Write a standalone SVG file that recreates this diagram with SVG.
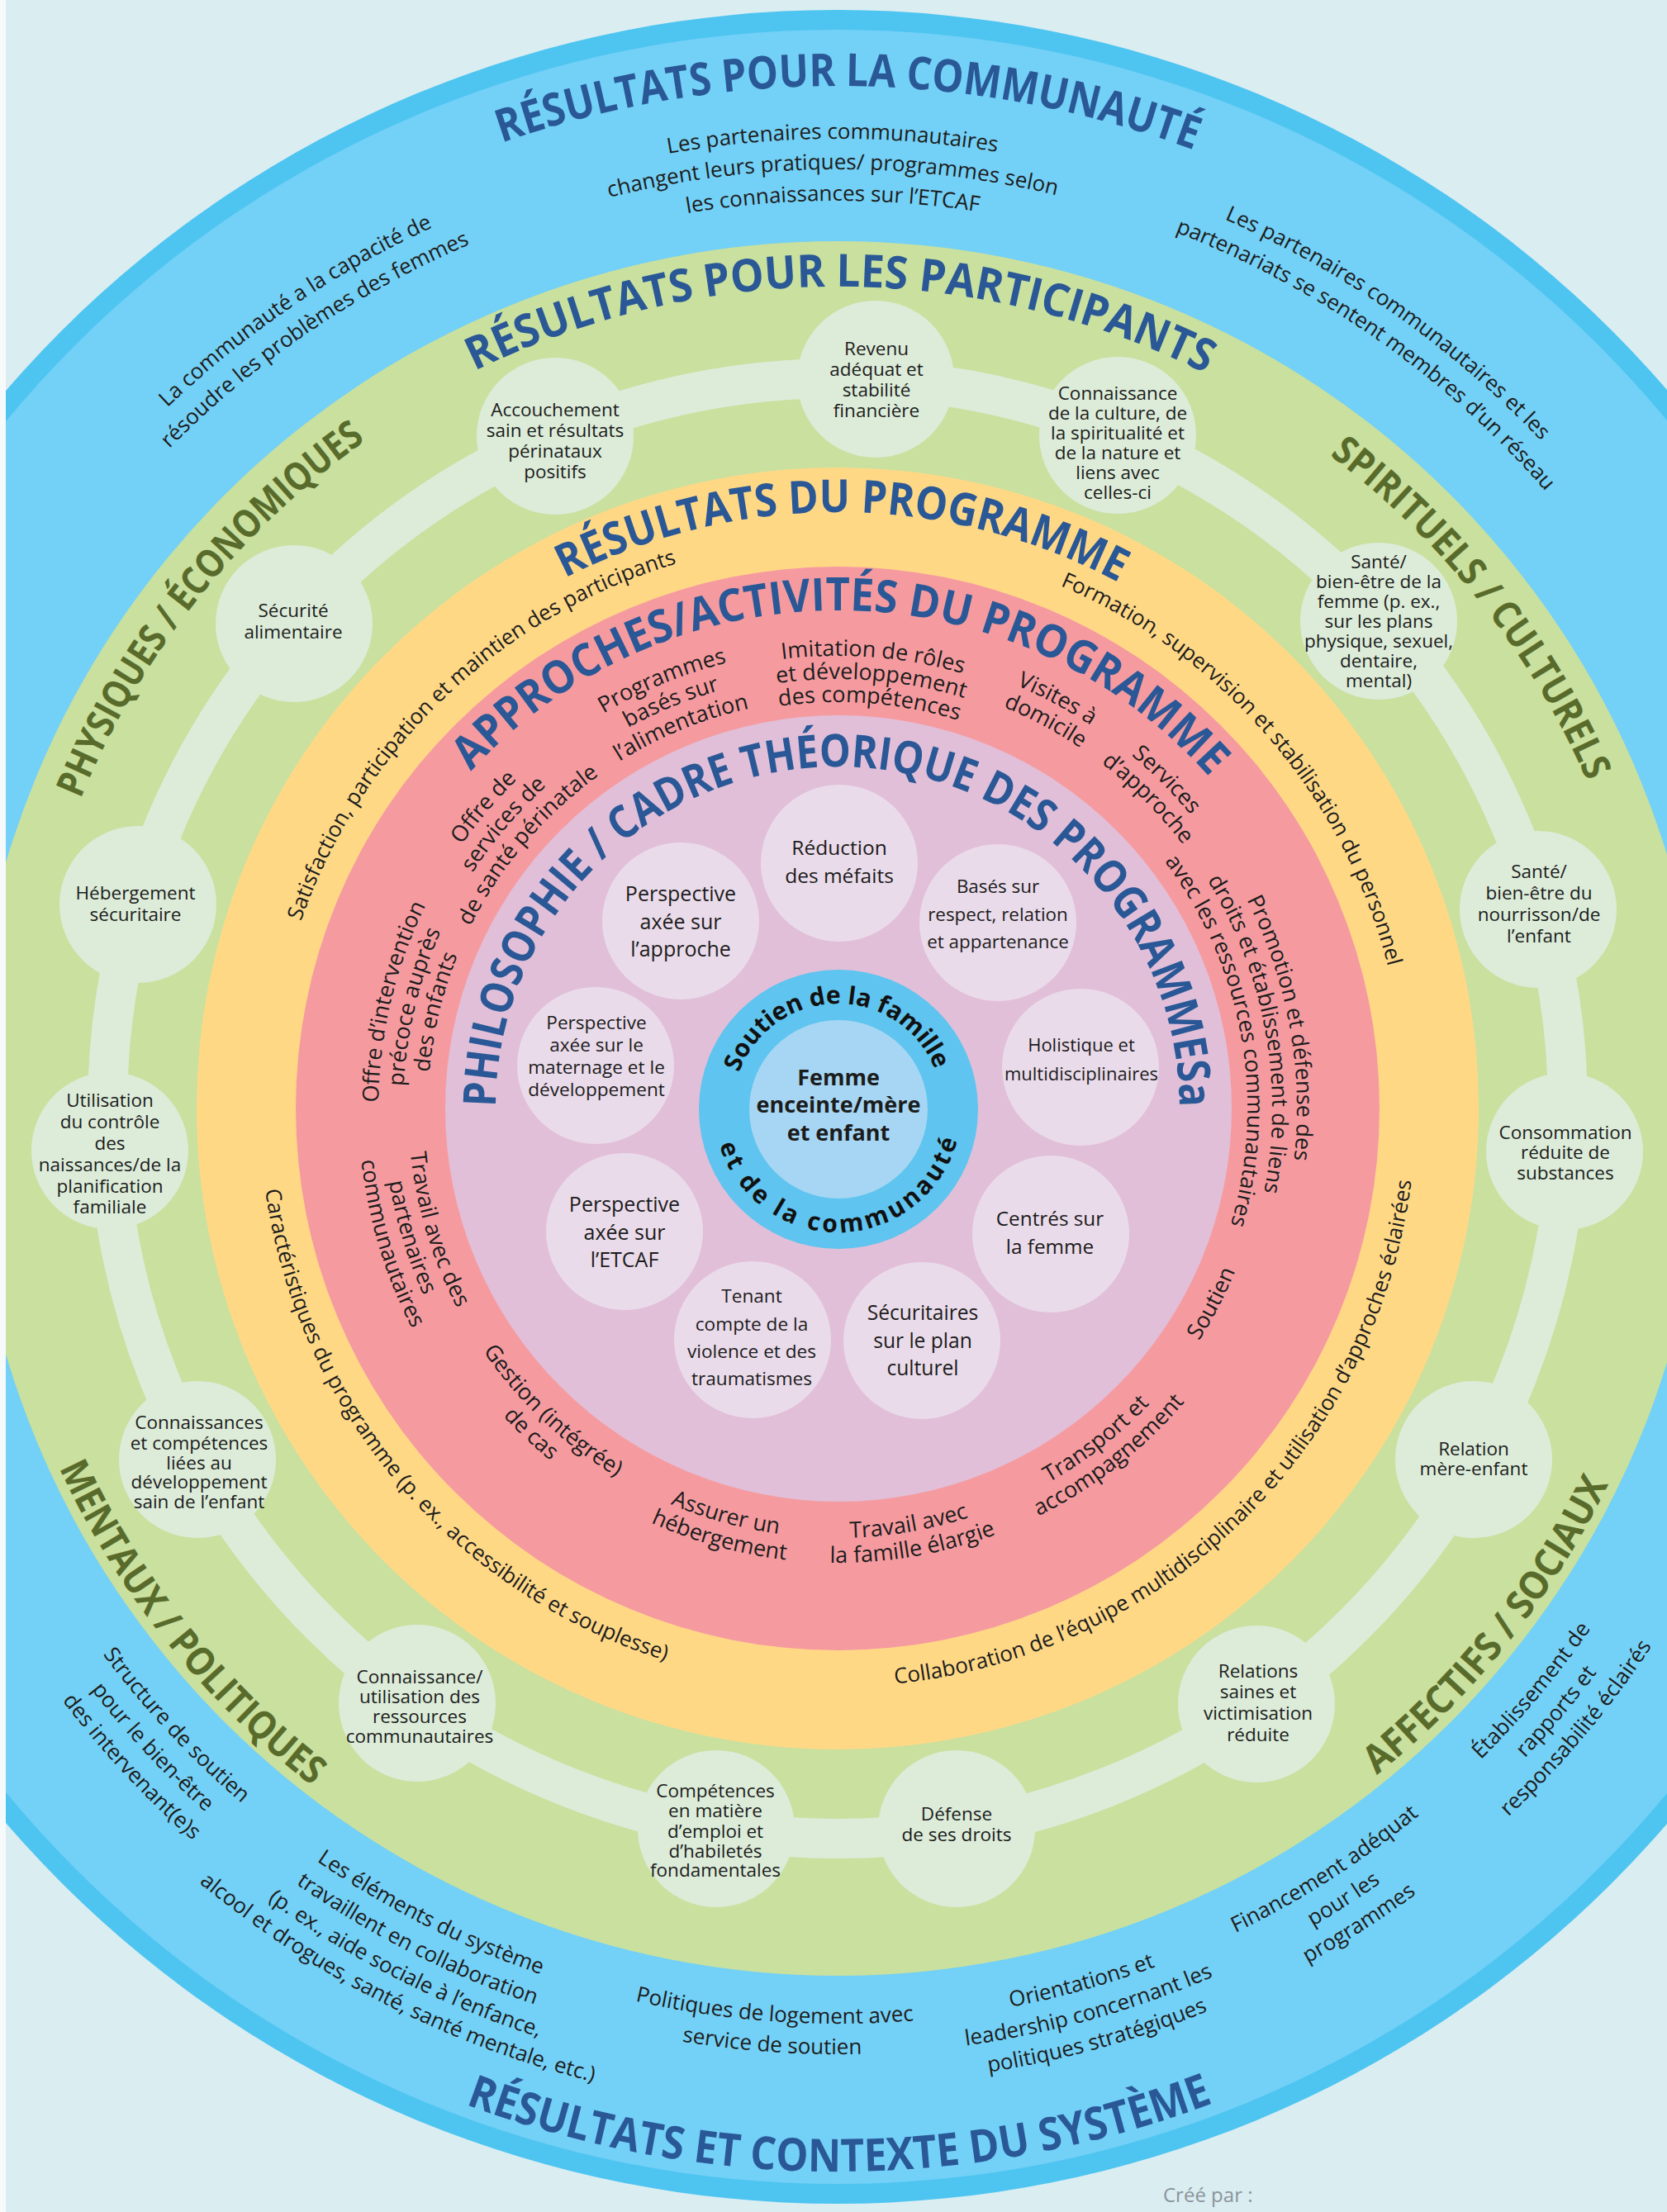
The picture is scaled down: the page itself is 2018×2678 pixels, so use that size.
<svg xmlns="http://www.w3.org/2000/svg" width="2018" height="2678" viewBox="0 0 2018 2678">
<defs>
<style>
text{font-family:"Open Sans","Noto Sans","DejaVu Sans",sans-serif;}
.t{font-size:26px;fill:#1c1c1c;text-anchor:middle;}
.pl{font-size:27px;fill:#1c1c1c;text-anchor:middle;}
.ti{font-size:55px;font-weight:700;fill:#2a5896;text-anchor:middle;}
.ol{font-size:47px;font-weight:700;fill:#596b2b;text-anchor:middle;}
.gn{font-size:22.5px;fill:#1c1c1c;text-anchor:middle;}
.ln{fill:#1c1c1c;text-anchor:middle;}
.cb{font-size:30px;font-weight:700;fill:#111;text-anchor:middle;}
.gnode{fill:#dcecd9;}
.lnode{fill:#eadbea;}
</style>
<path id="cw1238" d="M -205.19 1127.02 A 1238 1238 0 0 1 2233.19 1127.02"/>
<path id="cw1174" d="M -142.17 1138.13 A 1174 1174 0 0 1 2170.17 1138.13"/>
<path id="cw1137" d="M -105.73 1144.56 A 1137 1137 0 0 1 2133.73 1144.56"/>
<path id="cw1099" d="M -68.31 1151.16 A 1099 1099 0 0 1 2096.31 1151.16"/>
<path id="cw995" d="M 34.11 1169.22 A 995 995 0 0 1 1993.89 1169.22"/>
<path id="cw990" d="M 39.04 1170.09 A 990 990 0 0 1 1988.96 1170.09"/>
<path id="cw722" d="M 302.97 1216.62 A 722 722 0 0 1 1725.03 1216.62"/>
<path id="cw688" d="M 336.45 1222.53 A 688 688 0 0 1 1691.55 1222.53"/>
<path id="cw603" d="M 420.16 1237.29 A 603 603 0 0 1 1607.84 1237.29"/>
<path id="cw556" d="M 466.45 1245.45 A 556 556 0 0 1 1561.55 1245.45"/>
<path id="cw526" d="M 495.99 1250.66 A 526 526 0 0 1 1532.01 1250.66"/>
<path id="cw496" d="M 525.53 1255.87 A 496 496 0 0 1 1502.47 1255.87"/>
<path id="cw548" d="M 474.32 1246.84 A 548 548 0 0 1 1553.68 1246.84"/>
<path id="cw520" d="M 501.90 1251.70 A 520 520 0 0 1 1526.10 1251.70"/>
<path id="cw492" d="M 529.47 1256.56 A 492 492 0 0 1 1498.53 1256.56"/>
<path id="cw127" d="M 888.93 1319.95 A 127 127 0 0 1 1139.07 1319.95"/>
<path id="ccw1287" d="M -253.45 1565.49 A 1287 1287 0 0 0 2281.45 1565.49"/>
<path id="ccw1108" d="M -77.17 1534.40 A 1108 1108 0 0 0 2105.17 1534.40"/>
<path id="ccw1145" d="M -113.61 1540.83 A 1145 1145 0 0 0 2141.61 1540.83"/>
<path id="ccw1181" d="M -149.06 1547.08 A 1181 1181 0 0 0 2177.06 1547.08"/>
<path id="ccw1215" d="M -182.54 1552.98 A 1215 1215 0 0 0 2210.54 1552.98"/>
<path id="ccw1038" d="M -8.23 1522.25 A 1038 1038 0 0 0 2036.23 1522.25"/>
<path id="ccw700" d="M 324.63 1463.56 A 700 700 0 0 0 1703.37 1463.56"/>
<path id="ccw520" d="M 501.90 1432.30 A 520 520 0 0 0 1526.10 1432.30"/>
<path id="ccw550" d="M 472.35 1437.51 A 550 550 0 0 0 1555.65 1437.51"/>
<path id="ccw580" d="M 442.81 1442.72 A 580 580 0 0 0 1585.19 1442.72"/>
<path id="ccw150" d="M 866.28 1368.05 A 150 150 0 0 0 1161.72 1368.05"/>
<path id="lav414" d="M 600 1342 A 414 414 0 0 1 1428 1342"/>
</defs>

<rect x="0" y="0" width="2018" height="2678" fill="#daedf1"/>

<g id="rings">
<circle cx="1013" cy="1340" r="1328" fill="#4ec5f1"/>
<circle cx="1013" cy="1340" r="1304" fill="#73d0f6"/>
<circle cx="1014" cy="1342" r="1050" fill="#c9e09f"/>
<circle cx="1014" cy="1342" r="776" fill="#ffd886"/>
<circle cx="1014" cy="1342" r="656" fill="#f59ba0"/>
<circle cx="1015" cy="1342" r="476" fill="#e1bfd8"/>
</g>

<g id="connectors">
<circle cx="1014" cy="1342" r="884" fill="none" stroke="#dcecd9" stroke-width="48"/>
</g>

<g id="n-accouchement"><circle class="gnode" cx="672" cy="528" r="95"/><text class="gn"><tspan x="672" y="503.5">Accouchement</tspan><tspan x="672" y="528.5">sain et résultats</tspan><tspan x="672" y="553.5">périnataux</tspan><tspan x="672" y="578.5">positifs</tspan></text></g>
<g id="n-revenu"><circle class="gnode" cx="1060" cy="459" r="95"/><text class="gn"><tspan x="1061" y="429.5">Revenu</tspan><tspan x="1061" y="454.5">adéquat et</tspan><tspan x="1061" y="479.5">stabilité</tspan><tspan x="1061" y="504.5">financière</tspan></text></g>
<g id="n-culture"><circle class="gnode" cx="1353" cy="527" r="95"/><text class="gn"><tspan x="1353" y="484">Connaissance</tspan><tspan x="1353" y="508">de la culture, de</tspan><tspan x="1353" y="532">la spiritualité et</tspan><tspan x="1353" y="556">de la nature et</tspan><tspan x="1353" y="580">liens avec</tspan><tspan x="1353" y="604">celles-ci</tspan></text></g>
<g id="n-sante-femme"><circle class="gnode" cx="1669" cy="752" r="95"/><text class="gn"><tspan x="1669" y="688">Santé/</tspan><tspan x="1669" y="712">bien-être de la</tspan><tspan x="1669" y="736">femme (p. ex.,</tspan><tspan x="1669" y="760">sur les plans</tspan><tspan x="1669" y="784">physique, sexuel,</tspan><tspan x="1669" y="808">dentaire,</tspan><tspan x="1669" y="832">mental)</tspan></text></g>
<g id="n-sante-enfant"><circle class="gnode" cx="1862" cy="1101" r="95"/><text class="gn"><tspan x="1863" y="1063">Santé/</tspan><tspan x="1863" y="1089">bien-être du</tspan><tspan x="1863" y="1115">nourrisson/de</tspan><tspan x="1863" y="1141">l’enfant</tspan></text></g>
<g id="n-consommation"><circle class="gnode" cx="1894" cy="1394" r="95"/><text class="gn"><tspan x="1895" y="1379">Consommation</tspan><tspan x="1895" y="1403">réduite de</tspan><tspan x="1895" y="1428">substances</tspan></text></g>
<g id="n-relation"><circle class="gnode" cx="1784" cy="1767" r="95"/><text class="gn"><tspan x="1784" y="1762">Relation</tspan><tspan x="1784" y="1786">mère-enfant</tspan></text></g>
<g id="n-relations-saines"><circle class="gnode" cx="1521" cy="2063" r="95"/><text class="gn"><tspan x="1523" y="2031">Relations</tspan><tspan x="1523" y="2056">saines et</tspan><tspan x="1523" y="2082">victimisation</tspan><tspan x="1523" y="2108">réduite</tspan></text></g>
<g id="n-defense"><circle class="gnode" cx="1158" cy="2214" r="95"/><text class="gn"><tspan x="1158" y="2204">Défense</tspan><tspan x="1158" y="2229">de ses droits</tspan></text></g>
<g id="n-competences"><circle class="gnode" cx="867" cy="2214" r="95"/><text class="gn"><tspan x="866" y="2176">Compétences</tspan><tspan x="866" y="2200">en matière</tspan><tspan x="866" y="2225">d’emploi et</tspan><tspan x="866" y="2249">d’habiletés</tspan><tspan x="866" y="2272">fondamentales</tspan></text></g>
<g id="n-ressources"><circle class="gnode" cx="505" cy="2062" r="95"/><text class="gn"><tspan x="508" y="2038">Connaissance/</tspan><tspan x="508" y="2062">utilisation des</tspan><tspan x="508" y="2086">ressources</tspan><tspan x="508" y="2110">communautaires</tspan></text></g>
<g id="n-developpement"><circle class="gnode" cx="239" cy="1767" r="95"/><text class="gn"><tspan x="241" y="1730">Connaissances</tspan><tspan x="241" y="1755">et compétences</tspan><tspan x="241" y="1779">liées au</tspan><tspan x="241" y="1802">développement</tspan><tspan x="241" y="1826">sain de l’enfant</tspan></text></g>
<g id="n-naissances"><circle class="gnode" cx="133" cy="1393" r="95"/><text class="gn"><tspan x="133" y="1340">Utilisation</tspan><tspan x="133" y="1366">du contrôle</tspan><tspan x="133" y="1392">des</tspan><tspan x="133" y="1418">naissances/de la</tspan><tspan x="133" y="1444">planification</tspan><tspan x="133" y="1469">familiale</tspan></text></g>
<g id="n-hebergement"><circle class="gnode" cx="167" cy="1095" r="95"/><text class="gn"><tspan x="164" y="1089">Hébergement</tspan><tspan x="164" y="1115">sécuritaire</tspan></text></g>
<g id="n-securite"><circle class="gnode" cx="356" cy="755" r="95"/><text class="gn"><tspan x="355" y="747">Sécurité</tspan><tspan x="355" y="773">alimentaire</tspan></text></g>

<g id="p-reduction"><circle class="lnode" cx="1016" cy="1045" r="95"/><text class="ln" font-size="24.5"><tspan x="1016" y="1035">Réduction</tspan><tspan x="1016" y="1069">des méfaits</tspan></text></g>
<g id="p-approche"><circle class="lnode" cx="824" cy="1115" r="95"/><text class="ln" font-size="25"><tspan x="824" y="1091">Perspective</tspan><tspan x="824" y="1125">axée sur</tspan><tspan x="824" y="1158">l’approche</tspan></text></g>
<g id="p-respect"><circle class="lnode" cx="1208" cy="1117" r="95"/><text class="ln" font-size="22.4"><tspan x="1208" y="1081">Basés sur</tspan><tspan x="1208" y="1115">respect, relation</tspan><tspan x="1208" y="1148">et appartenance</tspan></text></g>
<g id="p-maternage"><circle class="lnode" cx="721" cy="1290" r="95"/><text class="ln" font-size="22.6"><tspan x="722" y="1246">Perspective</tspan><tspan x="722" y="1273">axée sur le</tspan><tspan x="722" y="1300">maternage et le</tspan><tspan x="722" y="1327">développement</tspan></text></g>
<g id="p-holistique"><circle class="lnode" cx="1308" cy="1292" r="95"/><text class="ln" font-size="22"><tspan x="1309" y="1273">Holistique et</tspan><tspan x="1309" y="1308">multidisciplinaires</tspan></text></g>
<g id="p-etcaf"><circle class="lnode" cx="756" cy="1491" r="95"/><text class="ln" font-size="25"><tspan x="756" y="1467">Perspective</tspan><tspan x="756" y="1501">axée sur</tspan><tspan x="756" y="1534">l’ETCAF</tspan></text></g>
<g id="p-femme"><circle class="lnode" cx="1272" cy="1494" r="95"/><text class="ln" font-size="24.3"><tspan x="1271" y="1484">Centrés sur</tspan><tspan x="1271" y="1518">la femme</tspan></text></g>
<g id="p-violence"><circle class="lnode" cx="911" cy="1622" r="95"/><text class="ln" font-size="22.6"><tspan x="910" y="1577">Tenant</tspan><tspan x="910" y="1611">compte de la</tspan><tspan x="910" y="1644">violence et des</tspan><tspan x="910" y="1677">traumatismes</tspan></text></g>
<g id="p-culturel"><circle class="lnode" cx="1116" cy="1623" r="95"/><text class="ln" font-size="24.6"><tspan x="1117" y="1598">Sécuritaires</tspan><tspan x="1117" y="1632">sur le plan</tspan><tspan x="1117" y="1665">culturel</tspan></text></g>

<g id="center">
<circle cx="1015" cy="1343" r="169" fill="#5fc4ef"/>
<circle cx="1015" cy="1343" r="108" fill="#a6d6f3"/>
<text class="cb" transform="rotate(-0.9 1014 1342)"><textPath href="#cw127" startOffset="50%" textLength="306" lengthAdjust="spacing">Soutien de la famille</textPath></text>
<text class="cb" transform="rotate(-1.1 1014 1342)"><textPath href="#ccw150" startOffset="50%" textLength="387" lengthAdjust="spacing">et de la communauté</textPath></text>
<text class="ln" font-size="27" font-weight="700"><tspan x="1015" y="1314">Femme</tspan><tspan x="1015" y="1347">enceinte/mère</tspan><tspan x="1015" y="1381">et enfant</tspan></text>
</g>

<g id="titles">
<text class="ti" transform="rotate(0.6 1014 1342)"><textPath href="#cw1238" startOffset="50%" textLength="855" lengthAdjust="spacingAndGlyphs">RÉSULTATS POUR LA COMMUNAUTÉ</textPath></text>
<text class="ti" transform="rotate(0.2 1014 1342)"><textPath href="#cw995" startOffset="50%" textLength="917" lengthAdjust="spacingAndGlyphs">RÉSULTATS POUR LES PARTICIPANTS</textPath></text>
<text class="ti" transform="rotate(-0.1 1014 1342)"><textPath href="#ccw1287" startOffset="50%" textLength="925" lengthAdjust="spacingAndGlyphs">RÉSULTATS ET CONTEXTE DU SYSTÈME</textPath></text>
<text class="ti" transform="rotate(0.45 1014 1342)"><textPath href="#cw722" startOffset="50%" textLength="697" lengthAdjust="spacingAndGlyphs">RÉSULTATS DU PROGRAMME</textPath></text>
<text class="ti" transform="rotate(0.45 1014 1342)"><textPath href="#cw603" startOffset="50%" textLength="1007" lengthAdjust="spacingAndGlyphs">APPROCHES/ACTIVITÉS DU PROGRAMME</textPath></text>
<text class="ti" style="text-anchor:start"><textPath href="#lav414" startOffset="2" textLength="1296" lengthAdjust="spacingAndGlyphs">PHILOSOPHIE / CADRE THÉORIQUE DES PROGRAMMESa</textPath></text>
<text class="ol" transform="rotate(-51.5 1014 1342)"><textPath href="#cw990" startOffset="50%" textLength="562" lengthAdjust="spacingAndGlyphs">PHYSIQUES / ÉCONOMIQUES</textPath></text>
<text class="ol" transform="rotate(51.7 1014 1342)"><textPath href="#cw990" startOffset="50%" textLength="509" lengthAdjust="spacingAndGlyphs">SPIRITUELS / CULTURELS</textPath></text>
<text class="ol" transform="rotate(51.5 1014 1342)"><textPath href="#ccw1038" startOffset="50%" textLength="497" lengthAdjust="spacingAndGlyphs">MENTAUX / POLITIQUES</textPath></text>
<text class="ol" transform="rotate(-51.5 1014 1342)"><textPath href="#ccw1038" startOffset="50%" textLength="454" lengthAdjust="spacingAndGlyphs">AFFECTIFS / SOCIAUX</textPath></text>
</g>

<g id="community-labels">
<text class="t" transform="rotate(-0.3 1014 1342)"><textPath href="#cw1174" startOffset="50%">Les partenaires communautaires</textPath></text>
<text class="t" transform="rotate(-0.3 1014 1342)"><textPath href="#cw1137" startOffset="50%">changent leurs pratiques/ programmes selon</textPath></text>
<text class="t" transform="rotate(-0.3 1014 1342)"><textPath href="#cw1099" startOffset="50%">les connaissances sur l’ETCAF</textPath></text>
<text class="t" transform="rotate(-34.2 1014 1342)"><textPath href="#cw1174" startOffset="50%">La communauté a la capacité de</textPath></text>
<text class="t" transform="rotate(-34.2 1014 1342)"><textPath href="#cw1137" startOffset="50%">résoudre les problèmes des femmes</textPath></text>
<text class="t" transform="rotate(35 1014 1342)"><textPath href="#cw1174" startOffset="50%">Les partenaires communautaires et les</textPath></text>
<text class="t" transform="rotate(35 1014 1342)"><textPath href="#cw1137" startOffset="50%">partenariats se sentent membres d’un réseau</textPath></text>
</g>

<g id="system-labels">
<text class="t" transform="rotate(47 1014 1342)"><textPath href="#ccw1108" startOffset="50%">Structure de soutien</textPath></text>
<text class="t" transform="rotate(47 1014 1342)"><textPath href="#ccw1145" startOffset="50%">pour le bien-être</textPath></text>
<text class="t" transform="rotate(47 1014 1342)"><textPath href="#ccw1181" startOffset="50%">des intervenant(e)s</textPath></text>
<text class="t" transform="rotate(26.8 1014 1342)"><textPath href="#ccw1108" startOffset="50%">Les éléments du système</textPath></text>
<text class="t" transform="rotate(26.8 1014 1342)"><textPath href="#ccw1145" startOffset="50%">travaillent en collaboration</textPath></text>
<text class="t" transform="rotate(26.8 1014 1342)"><textPath href="#ccw1181" startOffset="50%">(p. ex., aide sociale à l’enfance,</textPath></text>
<text class="t" transform="rotate(26.8 1014 1342)"><textPath href="#ccw1215" startOffset="50%">alcool et drogues, santé, santé mentale, etc.)</textPath></text>
<text class="t" transform="rotate(4 1014 1342)"><textPath href="#ccw1108" startOffset="50%">Politiques de logement avec</textPath></text>
<text class="t" transform="rotate(4 1014 1342)"><textPath href="#ccw1145" startOffset="50%">service de soutien</textPath></text>
<text class="t" transform="rotate(-15.6 1014 1342)"><textPath href="#ccw1108" startOffset="50%">Orientations et</textPath></text>
<text class="t" transform="rotate(-15.6 1014 1342)"><textPath href="#ccw1145" startOffset="50%">leadership concernant les</textPath></text>
<text class="t" transform="rotate(-15.6 1014 1342)"><textPath href="#ccw1181" startOffset="50%">politiques stratégiques</textPath></text>
<text class="t" transform="rotate(-32.6 1014 1342)"><textPath href="#ccw1108" startOffset="50%">Financement adéquat</textPath></text>
<text class="t" transform="rotate(-32.6 1014 1342)"><textPath href="#ccw1145" startOffset="50%">pour les</textPath></text>
<text class="t" transform="rotate(-32.6 1014 1342)"><textPath href="#ccw1181" startOffset="50%">programmes</textPath></text>
<text class="t" transform="rotate(-50 1014 1342)"><textPath href="#ccw1108" startOffset="50%">Établissement de</textPath></text>
<text class="t" transform="rotate(-50 1014 1342)"><textPath href="#ccw1145" startOffset="50%">rapports et</textPath></text>
<text class="t" transform="rotate(-50 1014 1342)"><textPath href="#ccw1181" startOffset="50%">responsabilité éclairés</textPath></text>
</g>

<g id="program-labels">
<text class="t" transform="rotate(-43.6 1014 1342)"><textPath href="#cw688" startOffset="50%">Satisfaction, participation et maintien des participants</textPath></text>
<text class="t" transform="rotate(49.3 1014 1342)"><textPath href="#cw688" startOffset="50%">Formation, supervision et stabilisation du personnel</textPath></text>
<text class="t" transform="rotate(49.6 1014 1342)"><textPath href="#ccw700" startOffset="50%">Caractéristiques du programme (p. ex., accessibilité et souplesse)</textPath></text>
<text class="t" transform="rotate(-44.25 1014 1342)"><textPath href="#ccw700" startOffset="50%">Collaboration de l’équipe multidisciplinaire et utilisation d’approches éclairées</textPath></text>
</g>

<g id="activity-labels">
<text class="pl" transform="rotate(-49.6 1014 1342)"><textPath href="#cw556" startOffset="50%">Offre de</textPath></text>
<text class="pl" transform="rotate(-49.6 1014 1342)"><textPath href="#cw526" startOffset="50%">services de</textPath></text>
<text class="pl" transform="rotate(-49.6 1014 1342)"><textPath href="#cw496" startOffset="50%">de santé périnatale</textPath></text>
<text class="pl" transform="rotate(-22.3 1014 1342)"><textPath href="#cw556" startOffset="50%">Programmes</textPath></text>
<text class="pl" transform="rotate(-22.3 1014 1342)"><textPath href="#cw526" startOffset="50%">basés sur</textPath></text>
<text class="pl" transform="rotate(-22.3 1014 1342)"><textPath href="#cw496" startOffset="50%">l’alimentation</textPath></text>
<text class="pl" transform="rotate(4.5 1014 1342)"><textPath href="#cw548" startOffset="50%">Imitation de rôles</textPath></text>
<text class="pl" transform="rotate(4.5 1014 1342)"><textPath href="#cw520" startOffset="50%">et développement</textPath></text>
<text class="pl" transform="rotate(4.5 1014 1342)"><textPath href="#cw492" startOffset="50%">des compétences</textPath></text>
<text class="pl" transform="rotate(28.2 1014 1342)"><textPath href="#cw556" startOffset="50%">Visites à</textPath></text>
<text class="pl" transform="rotate(28.2 1014 1342)"><textPath href="#cw526" startOffset="50%">domicile</textPath></text>
<text class="pl" transform="rotate(45 1014 1342)"><textPath href="#cw556" startOffset="50%">Services</textPath></text>
<text class="pl" transform="rotate(45 1014 1342)"><textPath href="#cw526" startOffset="50%">d’approche</textPath></text>
<text class="pl" transform="rotate(79.7 1014 1342)"><textPath href="#cw556" startOffset="50%">Promotion et défense des</textPath></text>
<text class="pl" transform="rotate(79.7 1014 1342)"><textPath href="#cw526" startOffset="50%">droits et établissement de liens</textPath></text>
<text class="pl" transform="rotate(79.7 1014 1342)"><textPath href="#cw496" startOffset="50%">avec les ressources communautaires</textPath></text>
<text class="pl" transform="rotate(-62.5 1014 1342)"><textPath href="#ccw520" startOffset="50%">Soutien</textPath></text>
<text class="pl" transform="rotate(-38 1014 1342)"><textPath href="#ccw520" startOffset="50%">Transport et</textPath></text>
<text class="pl" transform="rotate(-38 1014 1342)"><textPath href="#ccw550" startOffset="50%">accompagnement</textPath></text>
<text class="pl" transform="rotate(-9.7 1014 1342)"><textPath href="#ccw520" startOffset="50%">Travail avec</textPath></text>
<text class="pl" transform="rotate(-9.7 1014 1342)"><textPath href="#ccw550" startOffset="50%">la famille élargie</textPath></text>
<text class="pl" transform="rotate(15.4 1014 1342)"><textPath href="#ccw520" startOffset="50%">Assurer un</textPath></text>
<text class="pl" transform="rotate(15.4 1014 1342)"><textPath href="#ccw550" startOffset="50%">hébergement</textPath></text>
<text class="pl" transform="rotate(43.3 1014 1342)"><textPath href="#ccw520" startOffset="50%">Gestion (intégrée)</textPath></text>
<text class="pl" transform="rotate(43.3 1014 1342)"><textPath href="#ccw550" startOffset="50%">de cas</textPath></text>
<text class="pl" transform="rotate(73.2 1014 1342)"><textPath href="#ccw520" startOffset="50%">Travail avec des</textPath></text>
<text class="pl" transform="rotate(73.2 1014 1342)"><textPath href="#ccw550" startOffset="50%">partenaires</textPath></text>
<text class="pl" transform="rotate(73.2 1014 1342)"><textPath href="#ccw580" startOffset="50%">communautaires</textPath></text>
<text class="pl" transform="rotate(-76.5 1014 1342)"><textPath href="#cw556" startOffset="50%">Offre d’intervention</textPath></text>
<text class="pl" transform="rotate(-76.5 1014 1342)"><textPath href="#cw526" startOffset="50%">précoce auprès</textPath></text>
<text class="pl" transform="rotate(-76.5 1014 1342)"><textPath href="#cw496" startOffset="50%">des enfants</textPath></text>
</g>

<rect x="0" y="0" width="7" height="2678" fill="#f6fafb"/>
<text x="1408" y="2666" font-family="'Liberation Sans', Arial, sans-serif" font-size="24" fill="#8b949a">Créé par :</text>
</svg>
